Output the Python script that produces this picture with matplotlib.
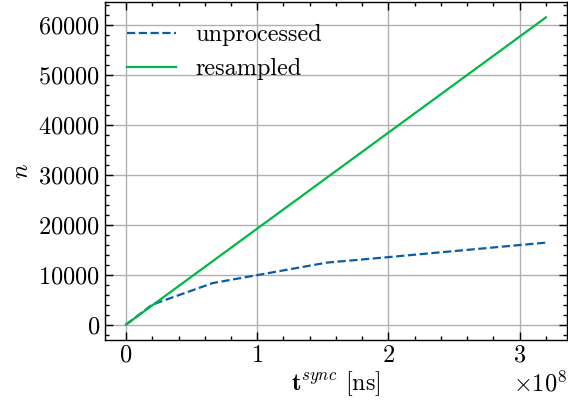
import matplotlib
matplotlib.use("Agg")
import matplotlib.pyplot as plt
from matplotlib.ticker import AutoMinorLocator, MultipleLocator

# data
t_unprocessed = [0.0, 0.2e8, 0.66e8, 1.0e8, 1.53e8, 2.0e8, 3.2e8]
n_unprocessed = [0, 4000, 8300, 9900, 12400, 13500, 16400]
t_resampled = [0.0, 3.2e8]
n_resampled = [0, 61500]

plt.rcParams.update({
    "font.family": "serif",
    "font.serif": ["cmr10"],
    "mathtext.fontset": "cm",
    "axes.formatter.use_mathtext": True,
    "font.size": 17.5,
    "axes.linewidth": 1.0,
    "xtick.direction": "in",
    "ytick.direction": "in",
    "xtick.top": True,
    "ytick.right": True,
    "xtick.major.size": 6,
    "ytick.major.size": 6,
    "xtick.minor.size": 3,
    "ytick.minor.size": 3,
    "xtick.major.width": 1.0,
    "ytick.major.width": 1.0,
    "xtick.minor.width": 1.0,
    "ytick.minor.width": 1.0,
    "xtick.minor.visible": True,
    "ytick.minor.visible": True,
})

fig = plt.figure(figsize=(5.68, 4.11), dpi=100)
ax = fig.add_axes([0.185, 0.173, 0.813, 0.822])

ax.plot(t_unprocessed, n_unprocessed, "--", color="#0C5DA5", lw=1.6, label="unprocessed")
ax.plot(t_resampled, n_resampled, "-", color="#00B945", lw=1.6, label="resampled")

ax.grid(True, color="#b0b0b0", lw=1.0)
ax.set_axisbelow(True)
ax.xaxis.set_major_locator(MultipleLocator(1e8))
ax.yaxis.set_major_locator(MultipleLocator(10000))
ax.xaxis.set_minor_locator(AutoMinorLocator(5))
ax.yaxis.set_minor_locator(AutoMinorLocator(5))

ax.set_xlabel(r"$\mathbf{t}^{sync}$ [ns]", labelpad=2)
ax.set_ylabel(r"$n$")
ax.legend(loc="upper left", frameon=False, handlelength=2.0)

fig.savefig("out.png", dpi=100)
